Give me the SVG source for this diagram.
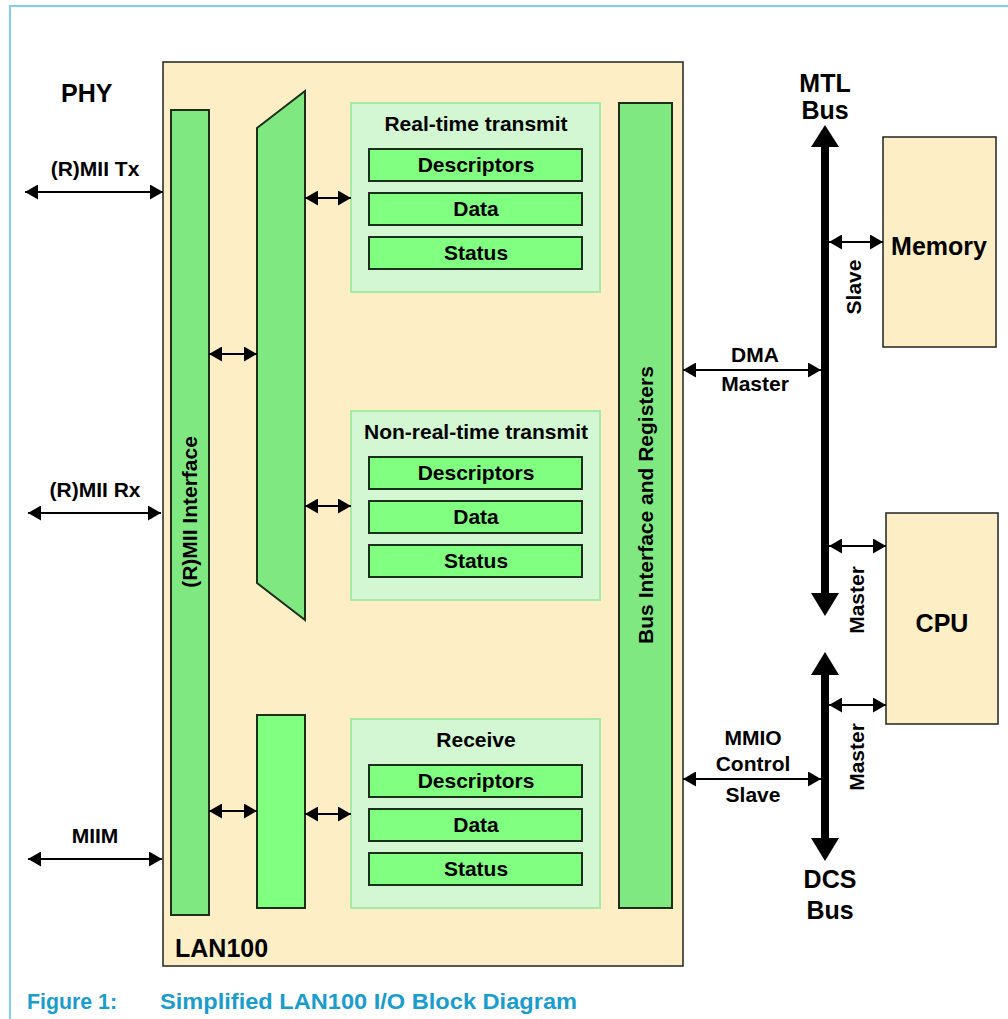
<svg xmlns="http://www.w3.org/2000/svg" width="1008" height="1019" viewBox="0 0 1008 1019">
<defs>
<style>
text{font-family:"Liberation Sans",Arial,sans-serif;font-weight:bold;fill:#000}
.m{text-anchor:middle}
.f20{font-size:21px}
.f25{font-size:25px}
.cream{fill:#fdeec6;stroke:#222;stroke-width:1.5}
.bar{fill:#80e880;stroke:#1c2e1c;stroke-width:2}
.cell{fill:#80ff80;stroke:#1c2e1c;stroke-width:2}
.grp{fill:#d2f7d2;stroke:#a6eaa6;stroke-width:2}
.arr{stroke:#000;stroke-width:2;fill:none;marker-start:url(#ah);marker-end:url(#ah)}
.cap{fill:#1a9ccc;font-size:22px}
</style>
<marker id="ah" viewBox="0 0 13 15" refX="13" refY="7.5" markerWidth="13" markerHeight="15" markerUnits="userSpaceOnUse" orient="auto-start-reverse"><path d="M0,0 L13,7.5 L0,15 Z" fill="#000"/></marker>
</defs>
<rect x="10" y="6" width="1010" height="1030" fill="#fff" stroke="#7fcfe8" stroke-width="2"/>
<text x="61" y="102" class="f25">PHY</text>
<g id="lan100"><rect x="163" y="62" width="520" height="904" class="cream"/><text x="175" y="957" class="f25">LAN100</text></g>
<g id="rmii"><rect x="171" y="110" width="38" height="805" class="bar"/><text transform="translate(197,512) rotate(-90)" class="m f20">(R)MII Interface</text></g>
<g id="mux"><polygon points="257,128 305,91 305,620 257,583" class="bar"/></g>
<g id="rxbuf"><rect x="257" y="715" width="48" height="193" class="cell"/></g>
<g id="rt">
<rect x="351" y="103" width="249" height="189" class="grp"/>
<text x="476" y="131" class="m f20">Real-time transmit</text>
<rect x="369" y="149" width="213" height="32" class="cell"/><text x="476" y="172" class="m f20">Descriptors</text>
<rect x="369" y="193" width="213" height="32" class="cell"/><text x="476" y="216" class="m f20">Data</text>
<rect x="369" y="237" width="213" height="32" class="cell"/><text x="476" y="260" class="m f20">Status</text>
</g>
<g id="nrt">
<rect x="351" y="411" width="249" height="189" class="grp"/>
<text x="476" y="439" class="m f20">Non-real-time transmit</text>
<rect x="369" y="457" width="213" height="32" class="cell"/><text x="476" y="480" class="m f20">Descriptors</text>
<rect x="369" y="501" width="213" height="32" class="cell"/><text x="476" y="524" class="m f20">Data</text>
<rect x="369" y="545" width="213" height="32" class="cell"/><text x="476" y="568" class="m f20">Status</text>
</g>
<g id="rx">
<rect x="351" y="719" width="249" height="189" class="grp"/>
<text x="476" y="747" class="m f20">Receive</text>
<rect x="369" y="765" width="213" height="32" class="cell"/><text x="476" y="788" class="m f20">Descriptors</text>
<rect x="369" y="809" width="213" height="32" class="cell"/><text x="476" y="832" class="m f20">Data</text>
<rect x="369" y="853" width="213" height="32" class="cell"/><text x="476" y="876" class="m f20">Status</text>
</g>
<g id="busif"><rect x="619" y="103" width="53" height="805" class="bar"/><text transform="translate(653,505) rotate(-90)" class="m f20">Bus Interface and Registers</text></g>
<g id="memory"><rect x="883" y="137" width="113" height="210" class="cream"/><text x="939" y="255" class="m" style="font-size:25px">Memory</text></g>
<g id="cpu"><rect x="886" y="513" width="112" height="211" class="cream"/><text x="942" y="632" class="m f25">CPU</text></g>
<g id="mtl">
<rect x="821" y="146" width="8" height="448" fill="#000"/>
<polygon points="825,125 839,147 811,147" fill="#000"/>
<polygon points="825,616 839,593 811,593" fill="#000"/>
<text x="825" y="92" class="m f25">MTL</text><text x="825" y="119" class="m f25">Bus</text>
</g>
<g id="dcs">
<rect x="821" y="674" width="8" height="165" fill="#000"/>
<polygon points="825,652 839,675 811,675" fill="#000"/>
<polygon points="825,861 839,838 811,838" fill="#000"/>
<text x="830" y="888" class="m f25">DCS</text><text x="830" y="919" class="m f25">Bus</text>
</g>
<g id="connectors">
<line x1="25" y1="192" x2="163" y2="192" class="arr"/>
<line x1="28" y1="513" x2="161" y2="513" class="arr"/>
<line x1="28" y1="859" x2="162" y2="859" class="arr"/>
<line x1="209" y1="354" x2="257" y2="354" class="arr"/>
<line x1="305" y1="198" x2="351" y2="198" class="arr"/>
<line x1="305" y1="506" x2="351" y2="506" class="arr"/>
<line x1="209" y1="811" x2="257" y2="811" class="arr"/>
<line x1="305" y1="814" x2="351" y2="814" class="arr"/>
<line x1="683" y1="370" x2="821" y2="370" class="arr"/>
<line x1="683" y1="779" x2="821" y2="779" class="arr"/>
<line x1="829" y1="242" x2="883" y2="242" class="arr"/>
<line x1="829" y1="546" x2="886" y2="546" class="arr"/>
<line x1="829" y1="705" x2="886" y2="705" class="arr"/>
<text x="95" y="176" class="m f20">(R)MII Tx</text>
<text x="95" y="497" class="m f20">(R)MII Rx</text>
<text x="95" y="843" class="m f20">MIIM</text>
<text x="755" y="362" class="m f20">DMA</text>
<text x="755" y="391" class="m f20">Master</text>
<text x="753" y="745" class="m f20">MMIO</text>
<text x="753" y="771" class="m f20">Control</text>
<text x="753" y="802" class="m f20">Slave</text>
<text transform="translate(861,287) rotate(-90)" class="m f20">Slave</text>
<text transform="translate(864,600) rotate(-90)" class="m f20">Master</text>
<text transform="translate(864,757) rotate(-90)" class="m f20">Master</text>
</g>
<text x="27" y="1009" class="cap" textLength="90" lengthAdjust="spacingAndGlyphs">Figure 1:</text>
<text x="160" y="1009" class="cap" textLength="417" lengthAdjust="spacingAndGlyphs">Simplified LAN100 I/O Block Diagram</text>
</svg>
